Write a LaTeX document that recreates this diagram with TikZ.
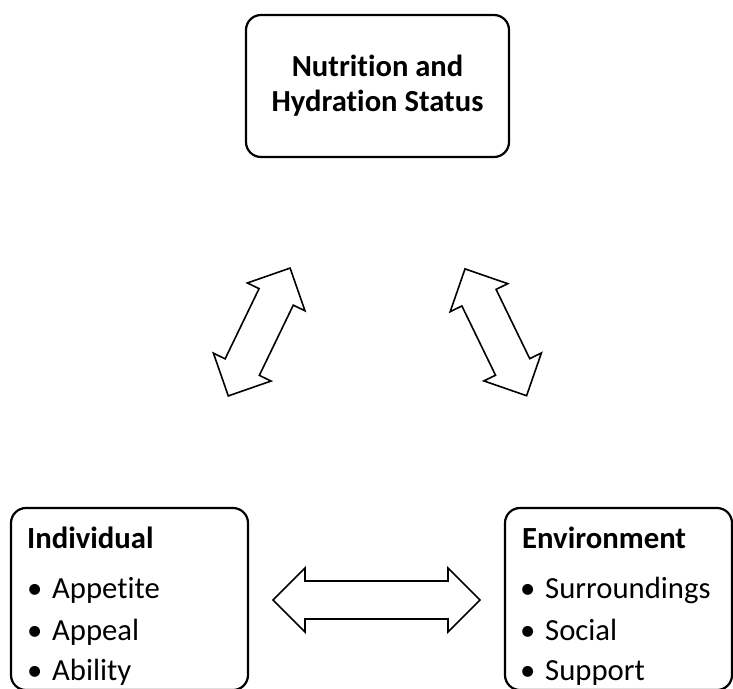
\documentclass[tikz,border=0pt]{standalone}
\usepackage{fontspec}
\setmainfont[Ligatures={NoCommon}]{Carlito}
\newcommand\mybul{\makebox[25pt][l]{•}}
\tikzset{
  boxstyle/.style={draw, line width=2.2pt, rounded corners=15pt, inner sep=0pt},
  arrowstyle/.style={draw, line width=1.6pt, fill=white, line join=miter},
  txt/.style={inner sep=0pt, anchor=base west, font=\fontsize{30.7}{35}\selectfont},
  head/.style={txt, font=\fontsize{30.7}{35}\selectfont\bfseries},
  pics/blockarrow/.style={code={
    \path[arrowstyle] (-#1,0) -- (-#1+32,32) -- (-#1+32,19) -- (#1-32,19) -- (#1-32,32)
      -- (#1,0) -- (#1-32,-32) -- (#1-32,-19) -- (-#1+32,-19) -- (-#1+32,-32) -- cycle;
  }}
}
\begin{document}
\begin{tikzpicture}[x=1pt,y=-1pt]
\useasboundingbox (0,0) rectangle (733,688);
\node[boxstyle, minimum width=263pt, minimum height=142pt, align=center,
  font=\fontsize{30.6}{35}\selectfont\bfseries] (top) at (377.5,86) {Nutrition and\\Hydration Status};
\node[boxstyle, minimum width=237pt, minimum height=182pt] (ind) at (129.5,599) {};
\node[boxstyle, minimum width=227pt, minimum height=182pt] (env) at (618.5,599) {};
\node[head] (indh) at (27,548) {Individual};
\node[txt] (i1) at (27,598) {\mybul Appetite};
\node[txt] (i2) at (27,640) {\mybul Appeal};
\node[txt] (i3) at (27,680) {\mybul Ability};
\node[head] (envh) at (522,548) {Environment};
\node[txt] (e1) at (520,598) {\mybul Surroundings};
\node[txt] (e2) at (520,640) {\mybul Social};
\node[txt] (e3) at (520,680) {\mybul Support};
\pic[rotate=64.2] at (259.2,332) {blockarrow=71};
\pic[rotate=115.9] at (495.8,332.3) {blockarrow=70.5};
\pic at (376.5,600) {blockarrow=103.5};
\end{tikzpicture}
\end{document}
